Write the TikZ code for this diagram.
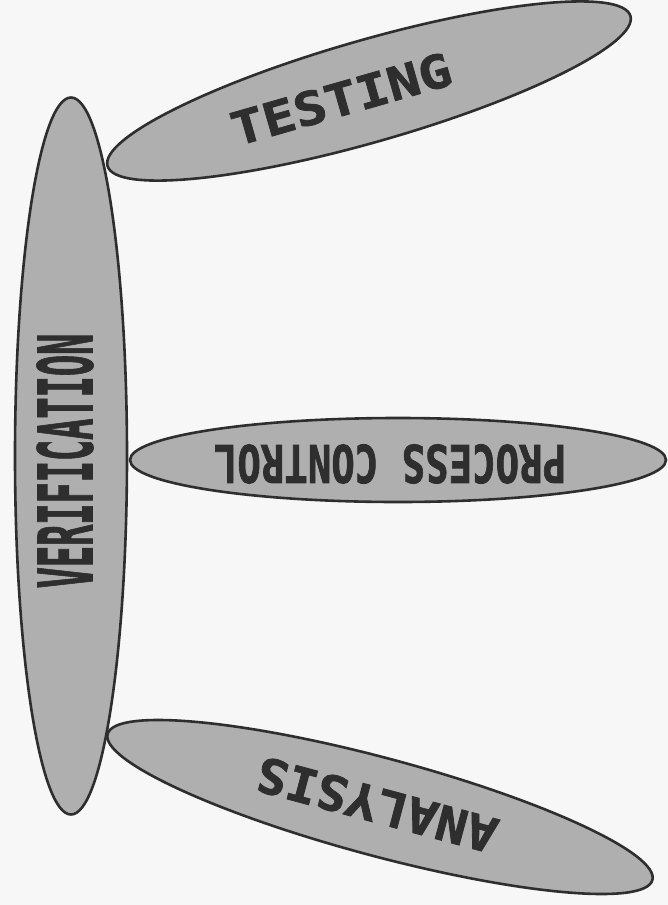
\documentclass[tikz,border=0pt]{standalone}
\usepackage{fontspec}
\usepackage{graphicx}
\usetikzlibrary{shapes.geometric,calc}
\newfontfamily\blockfont{DejaVu Sans Mono}[BoldFeatures={FakeBold=1.6}]
\definecolor{blobfill}{HTML}{AFAFAF}
\definecolor{blobline}{HTML}{2E2E2E}
\definecolor{paper}{HTML}{F7F7F7}
\tikzset{
  blob/.style={ellipse, draw=blobline, fill=blobfill, line width=2.6pt, inner sep=0pt},
  lbl/.style={text=blobline, inner sep=0pt, font=\blockfont\bfseries}
}
\begin{document}
\begin{tikzpicture}[x=1pt, y=-1pt]
    \fill[paper] (0,0) rectangle (668,905);
    \useasboundingbox (0,0) rectangle (668,905);

    \node (verif) [blob, minimum width=112pt, minimum height=717pt] at (71,456) {};
    \node (testing) [blob, minimum width=544pt, minimum height=102pt, rotate=16] at (369,91) {};
    \node (process) [blob, minimum width=536pt, minimum height=84pt] at (398,460) {};
    \node (analysis) [blob, minimum width=564pt, minimum height=98pt, rotate=-15] at (380,807) {};

    \node (verifText) [lbl, rotate=90] at ($(verif.center)+(-6,5)$) {\fontsize{75}{75}\selectfont\scalebox{0.47}[1]{VERIFICATION}};
    \node (testingText) [lbl, rotate=16] at ($(testing.center)!29pt!(testing.west)$) {\fontsize{46}{46}\selectfont\scalebox{1.17}[1]{TESTING}};
    \node (processText) [lbl, rotate=180] at ($(process.center)+(-8,4)$) {\fontsize{52}{52}\selectfont\scalebox{0.75}[1]{PROCESS CONTROL}};
    \node (analysisText) [lbl, rotate=165] at ($(analysis.center)+(-3,-2)$) {\fontsize{48}{48}\selectfont\scalebox{1.07}[1]{ANALYSIS}};
\end{tikzpicture}
\end{document}
